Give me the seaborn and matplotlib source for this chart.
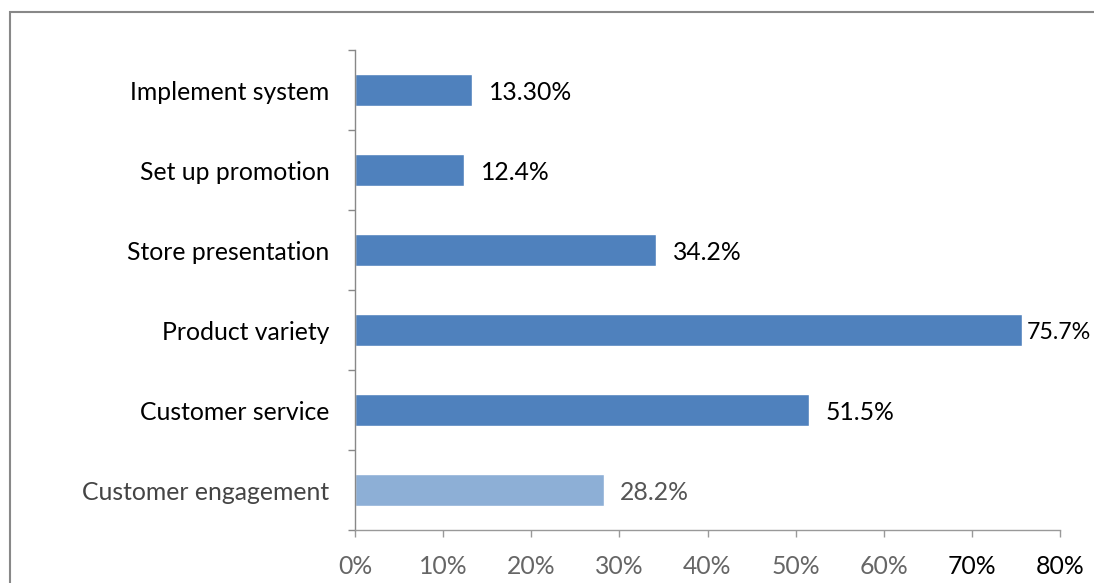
import matplotlib
matplotlib.use("Agg")
import matplotlib.pyplot as plt
import seaborn as sns
import pandas as pd
from matplotlib.patches import Rectangle
from matplotlib.ticker import FixedLocator

categories = ["Implement system", "Set up promotion", "Store presentation",
              "Product variety", "Customer service", "Customer engagement"]
values = [13.30, 12.4, 34.2, 75.7, 51.5, 28.2]
value_labels = ["13.30%", "12.4%", "34.2%", "75.7%", "51.5%", "28.2%"]
x_ticks = [0, 10, 20, 30, 40, 50, 60, 70, 80]
x_tick_labels = ["0%", "10%", "20%", "30%", "40%", "50%", "60%", "70%", "80%"]

sns.set_theme(style="white")
plt.rcParams["font.family"] = ["Lato", "DejaVu Sans"]

FS = 17.8
W, H = 1094, 583
fig = plt.figure(figsize=(W / 100, H / 100), dpi=100)
ax = fig.add_axes([355 / W, 1 - 530 / H, (1060 - 355) / W, (530 - 50) / H])

df = pd.DataFrame({"cat": categories, "val": values})
bar_colors = ["#4F81BD"] * 5 + ["#8DAFD6"]
sns.barplot(data=df, y="cat", x="val", hue="cat", palette=bar_colors,
            order=categories, width=0.4, ax=ax, legend=False, saturation=1)

for i, (v, lab) in enumerate(zip(values, value_labels)):
    col = "#555555" if i == 5 else "black"
    if v < 70:
        off, fs = 1.9, FS
    else:
        off, fs = 0.5, FS * 0.94
    ax.text(v + off, i + 0.03, lab, va="center", ha="left", fontsize=fs,
            color=col, clip_on=False)

ax.set_xlim(0, 80)
ax.set_ylim(5.5, -0.5)
ax.set_xticks(x_ticks)
ax.set_xticklabels(x_tick_labels, fontsize=FS)
for j, t in enumerate(ax.get_xticklabels()):
    t.set_color("#666666" if j < 7 else "black")
ax.set_ylabel("")
ax.set_xlabel("")
ax.tick_params(axis="y", which="major", length=0, pad=18.5, labelsize=FS)
ax.yaxis.set_minor_locator(FixedLocator([-0.5, 0.5, 1.5, 2.5, 3.5, 4.5, 5.5]))
ax.tick_params(axis="y", which="minor", length=5, color="#888888", width=1, left=True)
ax.tick_params(axis="x", which="major", length=5, color="#999999", width=1,
               bottom=True, pad=13)
for t in ax.get_yticklabels():
    t.set_color("black")
ax.get_yticklabels()[5].set_color("#444444")

for s in ["top", "right"]:
    ax.spines[s].set_visible(False)
ax.spines["left"].set_color("#888888")
ax.spines["bottom"].set_color("#999999")
ax.spines["left"].set_linewidth(1)
ax.spines["bottom"].set_linewidth(1)

fig.patches.append(Rectangle((10 / W, -0.1), 1.2, 1 - 12 / H + 0.1,
                             transform=fig.transFigure, fill=False,
                             edgecolor="#888888", linewidth=1.5))

fig.savefig("out.png", dpi=100)
